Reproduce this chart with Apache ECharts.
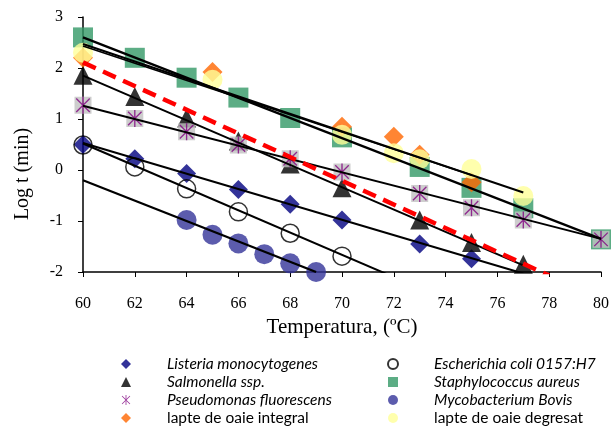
<!DOCTYPE html>
<html>
<head>
<meta charset="utf-8">
<script src="https://cdn.jsdelivr.net/npm/echarts@6/dist/echarts.min.js"></script>
<style>html,body{margin:0;padding:0;background:#fff}#c{width:612px;height:429px}</style>
</head>
<body>
<div id="c"></div>
<script>
// ---- data ----
const xTicks = [60, 62, 64, 66, 68, 70, 72, 74, 76, 78, 80];
const yTicks = [-2, -1, 0, 1, 2, 3];

const listeriaT = [60, 62, 64, 66, 68, 70, 73, 75];
const listeriaV = [0.5, 0.22, -0.07, -0.38, -0.67, -0.98, -1.45, -1.74];
const ecoliT = [60, 62, 64, 66, 68, 70];
const ecoliV = [0.49, 0.06, -0.37, -0.82, -1.24, -1.69];
const salmT = [60, 62, 64, 66, 68, 70, 73, 75, 77];
const salmV = [1.86, 1.44, 1.02, 0.57, 0.12, -0.35, -0.98, -1.42, -1.85];
const staphT = [60, 62, 64, 66, 68, 70, 73, 75, 77, 80];
const staphV = [2.6, 2.2, 1.81, 1.42, 1.02, 0.64, 0.06, -0.35, -0.75, -1.36];
const pseudoT = [60, 62, 64, 66, 68, 70, 73, 75, 77, 80];
const pseudoV = [1.27, 1.01, 0.75, 0.49, 0.22, -0.04, -0.46, -0.74, -0.98, -1.36];
const mycoT = [64, 65, 66, 67, 68, 69];
const mycoV = [-0.98, -1.27, -1.44, -1.65, -1.83, -2.0];
const integralT = [60, 65, 70, 72, 73, 75];
const integralV = [2.2, 1.92, 0.85, 0.65, 0.3, -0.24];
const degresatT = [60, 65, 70, 72, 73, 75, 77];
const degresatV = [2.3, 1.77, 0.69, 0.33, 0.21, 0.02, -0.51];

// trend lines (end points)
const staphFit = [[60, 2.6], [80, -1.35]];
const degresatFit = [[60, 2.47], [77, -0.44]];
const integralFit = [[60, 2.43], [75, -0.1]];
const pseudoFit = [[60, 1.26], [80, -1.35]];
const salmFit = [[60, 1.85], [77, -1.87]];
const listeriaFit = [[60, 0.53], [77, -2.03]];
const ecoliFit = [[60, 0.52], [72, -2.1]];
const mycoFit = [[60, -0.2], [69, -2.0]];
const overallFit = [[60, 2.11], [78, -2.07]];

const names = {
  listeria: 'Listeria monocytogenes',
  ecoli: 'Escherichia coli 0157:H7',
  salm: 'Salmonella ssp.',
  staph: 'Staphylococcus aureus',
  pseudo: 'Pseudomonas fluorescens',
  myco: 'Mycobacterium Bovis',
  integral: 'lapte de oaie integral',
  degresat: 'lapte de oaie degresat'
};
const xTitle = 'Temperatura, (ºC)';
const yTitle = 'Log t (min)';

// ---- build ----
const zip = (t, v) => t.map((x, i) => [x, v[i]]);
const star = 'path://M9.2,0L10.8,0L10.8,20L9.2,20Z M1.5,2.6L2.6,1.5L18.5,17.4L17.4,18.5Z M17.4,1.5L18.5,2.6L2.6,18.5L1.5,17.4Z';
const serif = '"Liberation Serif", "DejaVu Serif", serif';

function sc(name, t, v, symbol, size, style, z) {
  return { type: 'scatter', name: name, data: zip(t, v), symbol: symbol, symbolSize: size,
    symbolKeepAspect: true, itemStyle: style, z: z || 2, emphasis: { disabled: true } };
}
function ln(name, d, color, width, type) {
  return { type: 'line', name: name, data: d, symbol: 'none', clip: true, z: 5,
    lineStyle: { color: color, width: width, type: type || 'solid', cap: 'butt' }, emphasis: { disabled: true } };
}

const series = [
  sc(names.listeria, listeriaT, listeriaV, 'diamond', 19, { color: '#000080' }),
  sc(names.ecoli, ecoliT, ecoliV, 'circle', 18, { color: 'rgba(0,0,0,0)', borderColor: '#000', borderWidth: 1.5 }),
  sc(names.salm, salmT, salmV, 'triangle', 19, { color: '#000' }),
  sc(names.staph, staphT, staphV, 'rect', 20, { color: '#339966' }),
  sc('pseudoBg', pseudoT, pseudoV, 'rect', 17, { color: '#C0C0C0' }),
  sc(names.pseudo, pseudoT, pseudoV, star, 17, { color: '#800080' }),
  sc(names.myco, mycoT, mycoV, 'circle', 20, { color: '#333399' }),
  sc(names.integral, integralT, integralV, 'diamond', 20, { color: '#FF6600' }),
  sc(names.degresat, degresatT, degresatV, 'circle', 20, { color: '#FFFF99' }),
  ln('f1', staphFit, '#000', 2.2),
  ln('f2', degresatFit, '#000', 2),
  ln('f3', integralFit, '#000', 1.6),
  ln('f4', pseudoFit, '#000', 2),
  ln('f5', salmFit, '#000', 2),
  ln('f6', listeriaFit, '#000', 2),
  ln('f7', ecoliFit, '#000', 2),
  ln('f8', mycoFit, '#000', 2.2),
  ln('f9', overallFit, '#FF0000', 4.5, [14, 8])
];

const legText = { fontFamily: 'Lato, "Open Sans", sans-serif', fontSize: 15.5, color: '#000', lineHeight: 16, padding: [0, 0, 0, 31] };
function li(name, icon, style, italic) {
  return { name: name, icon: icon, itemStyle: style, textStyle: { fontStyle: italic ? 'italic' : 'normal' } };
}
const common = { orient: 'vertical', itemWidth: 10, itemHeight: 10, itemGap: 2, textStyle: legText,
  selectedMode: false, top: 356, height: 120, padding: 0 };

const option = {
  animation: false,
  backgroundColor: '#fff',
  grid: { left: 83, right: 8, top: 17, bottom: 157, containLabel: false },
  xAxis: {
    type: 'value', min: xTicks[0], max: xTicks[xTicks.length - 1], interval: 2,
    name: xTitle, nameLocation: 'middle', nameGap: 40,
    nameTextStyle: { fontFamily: serif, fontSize: 21, color: '#000' },
    axisLine: { onZero: false, lineStyle: { color: '#000', width: 1.5 } },
    axisTick: { show: true, length: 5, lineStyle: { color: '#000' } },
    axisLabel: { margin: 24, fontFamily: serif, fontSize: 16, color: '#000' },
    splitLine: { show: false }
  },
  yAxis: {
    type: 'value', min: yTicks[0], max: yTicks[yTicks.length - 1], interval: 1,
    axisLine: { show: true, onZero: false, lineStyle: { color: '#000', width: 1.5 } },
    axisTick: { show: true, length: 5, lineStyle: { color: '#000' } },
    axisLabel: { margin: 20, fontFamily: serif, fontSize: 16, color: '#000' },
    splitLine: { show: false }
  },
  graphic: [{
    type: 'text', x: 23, y: 174, rotation: Math.PI / 2,
    style: { text: yTitle, font: '20px ' + serif, fill: '#000', align: 'center', verticalAlign: 'middle' }
  }],
  legend: [
    Object.assign({}, common, { left: 121, data: [
      li(names.listeria, 'diamond', { color: '#000080' }, true),
      li(names.salm, 'triangle', { color: '#000' }, true),
      li(names.pseudo, star, { color: '#800080' }, true),
      li(names.integral, 'diamond', { color: '#FF6600' }, false)
    ] }),
    Object.assign({}, common, { left: 387, data: [
      li(names.ecoli, 'emptyCircle', { color: '#000', borderColor: '#000', borderWidth: 2 }, true),
      li(names.staph, 'rect', { color: '#339966' }, true),
      li(names.myco, 'circle', { color: '#333399' }, true),
      li(names.degresat, 'circle', { color: '#FFFF99' }, false)
    ] })
  ],
  series: series
};

const chart = echarts.init(document.getElementById('c'), null, { renderer: 'canvas' });
chart.setOption(option);
</script>
</body>
</html>
